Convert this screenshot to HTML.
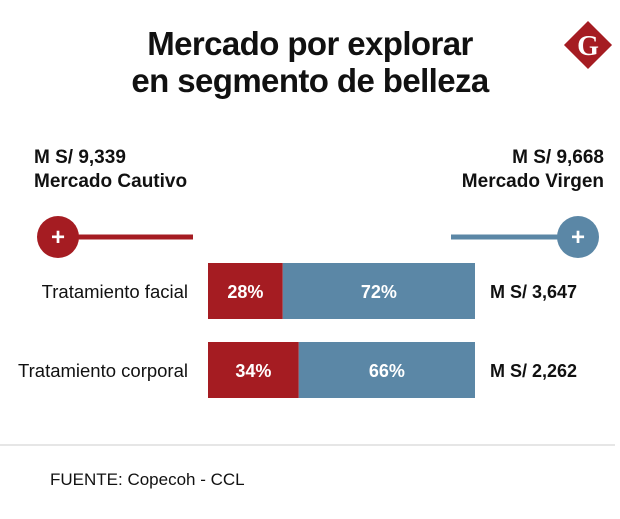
<!DOCTYPE html>
<html><head><meta charset="utf-8"><style>
body{margin:0;width:620px;height:519px;background:#fff;font-family:"Liberation Sans",sans-serif;position:relative;overflow:hidden}
.a{position:absolute}
.t{font-weight:bold;font-size:33px;color:#111;text-align:center;width:620px;left:0;line-height:37px;letter-spacing:-0.6px}
.h{font-weight:bold;font-size:19px;color:#111;line-height:24px}
.lab{font-size:17px;color:#111}
</style></head><body>
<div class="a t" style="top:25px">Mercado por explorar<br>en segmento de belleza</div>
<svg class="a" style="left:0;top:0" width="620" height="519">
<g><rect x="571" y="28" width="34" height="34" fill="#a51c22" transform="rotate(45 588 45)"/><text x="588" y="55" text-anchor="middle" font-family="Liberation Serif" font-weight="bold" font-size="28" fill="#fff">G</text></g>
<g><line x1="58" y1="237" x2="193" y2="237" stroke="#a51c22" stroke-width="5"/><circle cx="58" cy="237" r="21" fill="#a51c22"/><text x="58" y="245" text-anchor="middle" font-size="24" font-weight="bold" fill="#fff">+</text></g>
<g><line x1="451" y1="237" x2="578" y2="237" stroke="#5b87a6" stroke-width="5"/><circle cx="578" cy="237" r="21" fill="#5b87a6"/><text x="578" y="245" text-anchor="middle" font-size="24" font-weight="bold" fill="#fff">+</text></g>
<g id="bars"></g>
<line x1="0" y1="445" x2="615" y2="445" stroke="#ccc" stroke-width="1"/>
</svg>
<div class="a h" style="left:34px;top:146px">M S/ 9,339<br>Mercado Cautivo</div>
<div class="a h" style="right:16px;top:146px;text-align:right">M S/ 9,668<br>Mercado Virgen</div>
<div class="a lab" style="left:50px;top:470px">FUENTE: Copecoh - CCL</div>
<script>
const categories=["Tratamiento facial","Tratamiento corporal"];
const cautivo=[28,34];
const virgen=[72,66];
const totals=["M S/ 3,647","M S/ 2,262"];
const ns="http://www.w3.org/2000/svg";
const g=document.getElementById('bars');
const x0=208,w=267,rowY=[263,342],bh=56;
function xs(v){return v/100*w;}
function mk(t,a){const e=document.createElementNS(ns,t);for(const k in a)e.setAttribute(k,a[k]);g.appendChild(e);return e;}
categories.forEach((c,i)=>{
 const y=rowY[i];const rw=xs(cautivo[i]);const bw=xs(virgen[i]);
 let r=mk('rect',{x:x0,y:y,width:rw,height:bh,fill:'#a51c22'});
 
 
 let b=mk('rect',{x:x0+rw,y:y,width:bw,height:bh,fill:'#5b87a6'});
 
 
 let t1=mk('text',{x:x0+rw/2,y:y+35,'text-anchor':'middle','font-size':18,'font-weight':'bold',fill:'#fff'});t1.textContent=cautivo[i]+'%';
 
 
 let t2=mk('text',{x:x0+rw+bw/2,y:y+35,'text-anchor':'middle','font-size':18,'font-weight':'bold',fill:'#fff'});t2.textContent=virgen[i]+'%';
 
 
 let l=mk('text',{x:188,y:y+35,'text-anchor':'end','font-size':18.5,fill:'#111'});l.textContent=c;
 
 
 let tt=mk('text',{x:490,y:y+35,'font-size':18,'font-weight':'bold',fill:'#111'});tt.textContent=totals[i];
 
 
});
</script>
</body></html>
